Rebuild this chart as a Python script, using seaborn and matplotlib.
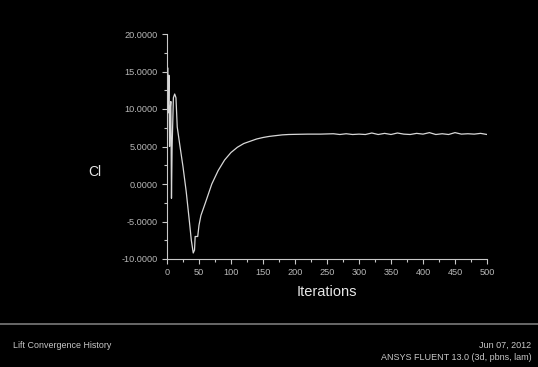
import matplotlib
matplotlib.use("Agg")
import matplotlib.pyplot as plt
import seaborn as sns
import pandas as pd
from matplotlib.lines import Line2D
from matplotlib.ticker import MultipleLocator, FormatStrFormatter

# ---- data ----
iterations = [0, 1, 2, 3, 4, 5, 6, 7, 8, 10, 12, 14, 16, 20, 25, 30, 35, 38, 41, 43,
              44, 48, 50, 53, 60, 70, 80, 90, 100, 110, 120, 130, 140, 150, 160, 170,
              180, 190, 200, 220, 240, 260, 270, 280, 290, 300, 310, 320, 330, 340, 350,
              360, 370, 380, 390, 400, 410, 420, 430, 440, 450, 460, 470, 480, 490, 500]
cl_values = [10.0, 15.5, 9.5, 14.5, 5.0, 10.0, 11.0, -1.9, 5.0, 11.5, 12.0, 11.5, 7.6,
             5.2, 2.3, -1.0, -5.0, -7.5, -9.2, -8.8, -7.0, -7.0, -5.5, -4.2, -2.5, 0.0,
             1.8, 3.2, 4.2, 4.9, 5.4, 5.7, 6.0, 6.2, 6.35, 6.45, 6.55, 6.6, 6.62, 6.65,
             6.65, 6.7, 6.6, 6.7, 6.6, 6.65, 6.6, 6.8, 6.6, 6.75, 6.6, 6.8, 6.65, 6.6,
             6.75, 6.65, 6.85, 6.6, 6.7, 6.6, 6.85, 6.65, 6.7, 6.65, 6.75, 6.6]
x_label = "Iterations"
y_label = "Cl"
title_text = "Lift Convergence History"
date_text = "Jun 07, 2012"
solver_text = "ANSYS FLUENT 13.0 (3d, pbns, lam)"

df = pd.DataFrame({"iter": iterations, "cl": cl_values})

sns.set_style("dark")
plt.rcParams["font.family"] = ["Liberation Sans", "DejaVu Sans"]

W, H = 538, 367
fig = plt.figure(figsize=(W / 100, H / 100), dpi=100, facecolor="black")
ax = fig.add_axes([167 / W, 1 - 259 / H, (487 - 167) / W, (259 - 34) / H])
ax.set_facecolor("black")

sns.lineplot(data=df, x="iter", y="cl", ax=ax, estimator=None, sort=False,
             color="#d8d8d8", linewidth=0.9)

ax.set_xlim(0, 500)
ax.set_ylim(-10, 20)
ax.xaxis.set_major_locator(MultipleLocator(50))
ax.xaxis.set_minor_locator(MultipleLocator(25))
ax.yaxis.set_major_locator(MultipleLocator(5))
ax.yaxis.set_minor_locator(MultipleLocator(2.5))
ax.yaxis.set_major_formatter(FormatStrFormatter("%.4f"))
ax.grid(False)
ax.set_xlabel("")
ax.set_ylabel("")

for side in ["top", "right"]:
    ax.spines[side].set_visible(False)
for side in ["left", "bottom"]:
    ax.spines[side].set_visible(True)
    ax.spines[side].set_color("#c8c8c8")
    ax.spines[side].set_linewidth(0.8)

ax.tick_params(axis="both", which="major", direction="out", length=3.5, width=0.8,
               color="#c8c8c8", labelcolor="#b8b8b8", labelsize=6.6, pad=3, bottom=True, left=True)
ax.tick_params(axis="both", which="minor", direction="out", length=2, width=0.8,
               color="#c8c8c8", bottom=True, left=True)

fig.text(95 / W, 1 - 172 / H, y_label, color="#e6e6e6", fontsize=10, ha="center", va="center")
fig.text(327 / W, 1 - 292 / H, x_label, color="#e6e6e6", fontsize=10.5, ha="center", va="center")

fig.add_artist(Line2D([0, 1], [1 - 324 / H, 1 - 324 / H], transform=fig.transFigure,
                      color="#7a7a7a", linewidth=1.2))

fig.text(13 / W, 1 - 345 / H, title_text, color="#c8c8c8", fontsize=6.4, ha="left", va="center")
fig.text(531 / W, 1 - 345 / H, date_text, color="#c8c8c8", fontsize=6.5, ha="right", va="center")
fig.text(532 / W, 1 - 358 / H, solver_text, color="#c8c8c8", fontsize=6.5, ha="right", va="center")

fig.savefig("out.png", dpi=100, facecolor="black")
